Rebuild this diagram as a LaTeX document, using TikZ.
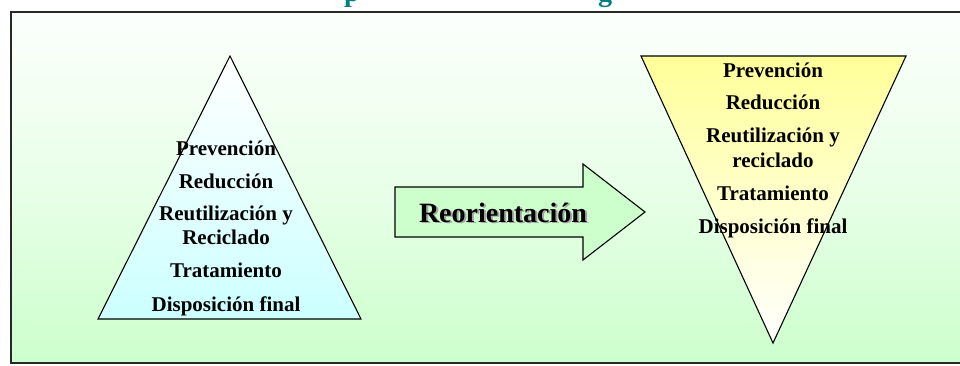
\documentclass[tikz,border=0pt]{standalone}
\usepackage{fontspec}
\setmainfont{Liberation Serif}
\definecolor{boxgreen}{RGB}{204,255,204}
\definecolor{boxtop}{RGB}{252,255,252}
\definecolor{cyanlight}{RGB}{204,255,255}
\definecolor{yellowlight}{RGB}{255,255,153}
\definecolor{titleteal}{RGB}{0,128,128}
\definecolor{bordergray}{RGB}{40,40,40}
\tikzset{
  lbl/.style={font=\bfseries\fontsize{21}{25}\selectfont, anchor=base, inner sep=0pt},
  big/.style={font=\bfseries\fontsize{28}{32}\selectfont, anchor=base, inner sep=0pt},
  shapeline/.style={draw=black, line width=1.1pt, line join=miter},
}
\begin{document}
\begin{tikzpicture}[x=1pt,y=-1pt]
\useasboundingbox (0,0) rectangle (960,365);
\fill[white] (0,0) rectangle (960,365);
% title fragments (cut off at top)
\begin{scope}
\clip (0,0) rectangle (960,10.5);
\node[font=\bfseries\fontsize{28}{32}\selectfont, text=titleteal, anchor=base, inner sep=0pt] (tp) at (352,1) {p};
\node[font=\bfseries\fontsize{28}{32}\selectfont, text=titleteal, anchor=base, inner sep=0pt] (tg) at (605,1) {g};
\end{scope}
% frame
\shade[top color=boxtop, bottom color=boxgreen, middle color=boxgreen!45!white] (11,12) rectangle (980,363);
\draw[bordergray, line width=1.8pt] (11,12) rectangle (980,363);
% left pyramid
\coordinate (la) at (230,56);
\coordinate (lb) at (98,319);
\coordinate (lc) at (361,319);
\shade[top color=white, bottom color=cyanlight] (la) -- (lb) -- (lc) -- cycle;
\draw[shapeline] (la) -- (lb) -- (lc) -- cycle;
\node[lbl] (l1) at (226,155) {Prevención};
\node[lbl] (l2) at (226,188) {Reducción};
\node[lbl] (l3) at (226,220) {Reutilización y};
\node[lbl] (l3b) at (226,244) {Reciclado};
\node[lbl] (l4) at (226,277) {Tratamiento};
\node[lbl] (l5) at (226,311) {Disposición final};
% arrow
\coordinate (a1) at (395,187);
\coordinate (a2) at (583,187);
\coordinate (a3) at (583,164);
\coordinate (a4) at (645,212);
\coordinate (a5) at (583,260);
\coordinate (a6) at (583,237);
\coordinate (a7) at (395,237);
\fill[boxgreen] (a1) -- (a2) -- (a3) -- (a4) -- (a5) -- (a6) -- (a7) -- cycle;
\draw[shapeline] (a1) -- (a2) -- (a3) -- (a4) -- (a5) -- (a6) -- (a7) -- cycle;
\node[big, text=black!35] (rs) at (505,223.5) {Reorientación};
\node[big] (r) at (503,222) {Reorientación};
% right inverted pyramid
\coordinate (ra) at (641,56);
\coordinate (rb) at (906,56);
\coordinate (rc) at (773,343);
\shade[top color=yellowlight, bottom color=white] (ra) -- (rb) -- (rc) -- cycle;
\draw[shapeline] (ra) -- (rb) -- (rc) -- cycle;
\node[lbl] (r1) at (773,77) {Prevención};
\node[lbl] (r2) at (773,109) {Reducción};
\node[lbl] (r3) at (773,142) {Reutilización y};
\node[lbl] (r3b) at (773,167) {reciclado};
\node[lbl] (r4) at (773,200) {Tratamiento};
\node[lbl] (r5) at (773,233) {Disposición final};
\end{tikzpicture}
\end{document}
